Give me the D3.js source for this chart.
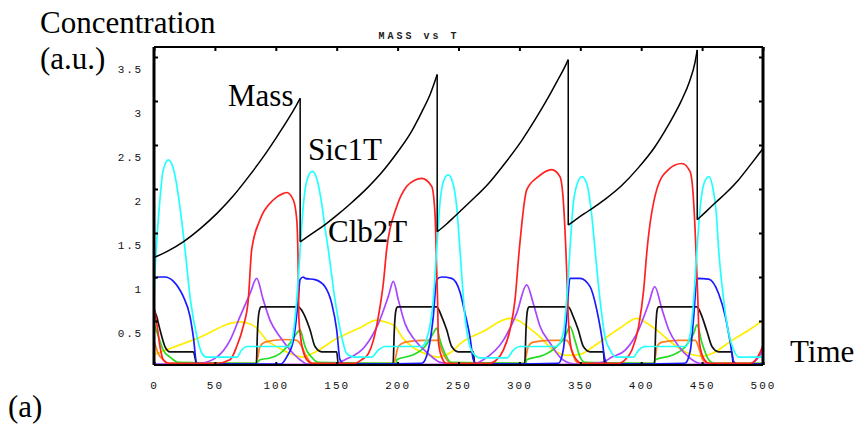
<!DOCTYPE html>
<html><head><meta charset="utf-8">
<script src="https://cdn.jsdelivr.net/npm/d3@7"></script>
<style>body{margin:0;background:#fff}svg{display:block}</style>
</head><body><svg id="c" width="858" height="427"></svg>
<script>
// ---------- data (time, concentration) ----------
const xTicks = [0,50,100,150,200,250,300,350,400,450,500];
const yTicks = [0.5,1,1.5,2,2.5,3,3.5];
const yTickLabels = ["0.5","1","1.5","2","2.5","3","3.5"];
const chartTitle = "MASS vs T";

const mass = [[0,1.22],[12,1.30],[24,1.40],[38,1.55],[51.5,1.72],[65,1.92],[78.8,2.16],[90,2.37],[100.7,2.59],[110,2.79],[117.2,2.96],[120,3.03],
 [120,1.40],[130,1.495],[141.8,1.61],[150,1.70],[161,1.83],[175,2.01],[188.3,2.21],[200,2.42],[210,2.62],[220,2.88],[226.6,3.07],[232.5,3.30],
 [232.5,1.515],[240,1.60],[247,1.69],[260,1.86],[274.5,2.06],[288,2.29],[301.9,2.55],[313,2.79],[323.7,3.04],[332,3.25],[337.4,3.39],[340.1,3.47],
 [340.1,1.59],[348,1.67],[356.6,1.75],[370,1.88],[384,2.04],[397.6,2.24],[411.3,2.48],[422,2.72],[433.2,3.01],[439.6,3.22],[444.2,3.44],[446,3.58],
 [446,1.65],[453,1.74],[460.6,1.84],[470,1.96],[479.7,2.10],[490,2.28],[498.9,2.44],[500,2.46]];

const sic1T = [[0,0.75],[1,1.1],[4.4,1.8],[7.4,2.2],[11.7,2.33],[15.5,2.25],[18.6,2.05],[22,1.72],[25.5,1.31],[29.9,0.74],[35.3,0.32],[39.4,0.13],[43,0.09],[68,0.09],[72,0.17],[76.4,0.21],[111.7,0.21],[114.4,0.36],[117.2,0.74],[120,1.31],[122.5,1.8],[126,2.12],[130,2.20],[134,2.1],[137.5,1.85],[140.5,1.55],[143.1,1.31],[148.6,0.74],[154.1,0.32],[158.2,0.13],[165,0.09],[178.7,0.09],[184.2,0.17],[189.7,0.21],[219.8,0.21],[225.2,0.36],[229.3,0.74],[232.1,1.31],[234.5,1.8],[237.5,2.08],[241.5,2.16],[245.5,2.06],[248.5,1.8],[251.2,1.31],[255.3,0.55],[259.4,0.21],[263.5,0.11],[267.6,0.08],[289.6,0.08],[295,0.17],[300.5,0.21],[330.6,0.21],[336,0.36],[338.8,0.74],[341.5,1.31],[344,1.8],[347.5,2.06],[351.5,2.14],[355.5,2.05],[359,1.75],[362.1,1.31],[366.2,0.74],[370.3,0.32],[374.4,0.17],[379.9,0.09],[393.5,0.09],[397.9,0.17],[403.4,0.21],[436.3,0.21],[440.4,0.36],[443.1,0.74],[445.8,1.31],[448.5,1.8],[451.5,2.06],[455.5,2.14],[459,2.0],[461.5,1.75],[463.6,1.31],[467.7,0.74],[471.8,0.36],[475.9,0.17],[480,0.09],[500,0.09]];

const clb2T = [[0,0.66],[2.5,0.45],[4.9,0.21],[7.6,0.06],[12,0.02],[51.5,0.02],[62.4,0.06],[67.9,0.21],[73.3,0.44],[77.4,0.74],[80.2,1.31],[87,1.65],[97.9,1.875],[106.2,1.95],[108.9,1.96],[114.4,1.875],[117.2,1.65],[118.4,1.08],[118.9,0.55],[120.5,0.3],[122.6,0.15],[125.4,0.06],[130,0.02],
 [165,0.02],[170.5,0.06],[176,0.13],[180.1,0.28],[184.2,0.55],[188.3,0.93],[191,1.31],[199.3,1.80],[207.5,2.03],[214,2.10],[219.8,2.12],[228,2.03],[230.7,1.72],[232.1,1.08],[232.8,0.74],[233.6,0.25],[236.2,0.09],[240,0.02],
 [276,0.02],[281.4,0.06],[286.8,0.17],[292.3,0.40],[296.4,0.74],[299.9,1.31],[306,1.99],[315.5,2.14],[326.5,2.22],[333.3,2.14],[336,1.875],[338.8,1.08],[340.1,0.55],[342.8,0.17],[346.9,0.06],[351,0.02],
 [382,0.02],[386.9,0.06],[392.4,0.17],[397.9,0.44],[402,0.85],[404.8,1.31],[412.7,1.99],[422.3,2.22],[433.3,2.29],[440.1,2.20],[442.8,1.91],[445.6,1.08],[446.5,0.74],[447.8,0.25],[451.9,0.06],[456,0.02],
 [490,0.02],[494,0.06],[497.5,0.14],[500,0.22]];

const blueSeries = [[0,0.98],[4,1.0],[9,1.0],[16,0.95],[20,0.88],[24,0.78],[29.6,0.55],[32.3,0.32],[35.1,0.02],[40,0.01],[104,0.01],[108.9,0.09],[114.4,0.28],[118.4,0.74],[119.9,0.97],[122.6,1.0],[124,0.985],[132.2,0.97],[140.4,0.89],[145.9,0.70],[150,0.40],[152.7,0.06],[156,0.01],
 [220,0.02],[225.2,0.17],[229.3,0.55],[232.1,0.97],[236.2,1.0],[244.4,0.985],[251.2,0.83],[255.3,0.59],[259.4,0.32],[262.2,0.06],[265,0.01],
 [332,0.02],[336,0.17],[338.8,0.55],[341.5,0.985],[349.8,0.985],[358,0.89],[363.5,0.63],[367.6,0.32],[370.3,0.06],[373,0.01],
 [436,0.02],[440.4,0.17],[443.1,0.55],[445.8,0.985],[455.4,0.975],[463.6,0.81],[469.1,0.55],[473.2,0.25],[475.9,0.04],[479,0.01],[500,0.01]];

const purpleSeries = [[0,0.01],[37.8,0.02],[51.5,0.09],[62.4,0.28],[70.6,0.55],[78.8,0.81],[84.3,0.985],[89.7,0.74],[95.2,0.51],[103.4,0.32],[111.7,0.17],[119.9,0.06],[126,0.01],
 [150,0.02],[156.8,0.06],[173.2,0.21],[184.2,0.47],[192.4,0.78],[196.5,0.95],[200.6,0.74],[206.1,0.47],[214.3,0.28],[225.2,0.13],[235,0.03],[245,0.01],
 [262,0.01],[270.4,0.06],[286.8,0.28],[297.8,0.59],[306,0.91],[311.4,0.70],[316.9,0.44],[325.1,0.25],[333.3,0.09],[342,0.02],[350,0.01],
 [368,0.03],[376,0.09],[386.9,0.17],[397.9,0.40],[406.2,0.70],[411.1,0.89],[417.1,0.63],[422.6,0.40],[430.9,0.21],[439.1,0.09],[448,0.02],
 [485,0.01],[490.9,0.02],[496.5,0.09],[500,0.17]];

const stepSeries = [[0,0.63],[2.2,0.55],[4.9,0.40],[9,0.21],[13.1,0.15],[32.3,0.15],[35.1,0.01],[84,0.01],[85,0.40],[86.5,0.62],[88,0.66],[118.4,0.66],[122.6,0.59],[124,0.55],[128.1,0.40],[132.2,0.21],[137.7,0.15],[150,0.15],[151.3,0.01],
 [196.3,0.01],[197.3,0.40],[198.6,0.62],[200,0.66],[232.1,0.66],[236.2,0.55],[240.3,0.40],[244.4,0.21],[249.8,0.15],[262.2,0.15],[263.3,0.01],
 [304.4,0.01],[305.4,0.40],[306.6,0.62],[308,0.66],[340.1,0.66],[344.2,0.55],[348.3,0.40],[352.5,0.21],[358,0.15],[368.9,0.15],[370,0.01],
 [410.9,0.01],[411.9,0.40],[413,0.62],[414.3,0.66],[445.8,0.66],[449.9,0.55],[454,0.38],[458.1,0.21],[463.6,0.15],[474.5,0.15],[475.5,0.01],[500,0.01]];

const yellowSeries = [[0,0.12],[35,0.30],[70.6,0.49],[76,0.48],[84.3,0.42],[92.5,0.28],[100.7,0.21],[111.7,0.13],[122,0.09],[130,0.13],[150,0.30],[170,0.43],[182.8,0.51],[189.7,0.49],[197.9,0.44],[203.4,0.32],[211.6,0.21],[222.5,0.13],[233.3,0.09],[244.4,0.15],[251.2,0.24],[270,0.38],[292.3,0.53],[300,0.50],[306,0.44],[316.9,0.32],[327.8,0.17],[338.8,0.11],[349.8,0.12],[360.7,0.21],[382.6,0.42],[396.6,0.53],[403.1,0.49],[414.4,0.38],[425.3,0.25],[439.1,0.13],[449.9,0.10],[458.1,0.13],[474.5,0.28],[490.9,0.42],[500,0.51]];

const orangeSeries = [[0,0.28],[3.5,0.13],[7.6,0.06],[12,0.02],[84,0.02],[84.8,0.06],[87,0.21],[91.1,0.26],[106.2,0.29],[117.2,0.28],[121.3,0.21],[125.4,0.09],[130,0.02],
 [197,0.02],[198.2,0.08],[200.6,0.21],[206.1,0.26],[219.8,0.28],[233.3,0.28],[236.2,0.17],[240.3,0.06],[244,0.02],
 [304,0.02],[305.2,0.08],[307.3,0.21],[311.4,0.26],[325.1,0.28],[338.8,0.28],[343,0.17],[345.6,0.06],[349,0.02],
 [410.5,0.02],[411.5,0.08],[413,0.21],[417.1,0.26],[430.9,0.28],[444.5,0.28],[447.8,0.17],[450.5,0.06],[455,0.02],[500,0.02]];

const greenSeries = [[0,0.47],[3.5,0.33],[7.6,0.17],[13.1,0.09],[20,0.03],[84,0.02],[87,0.06],[95.2,0.08],[103.4,0.13],[111.7,0.25],[117.2,0.36],[119.9,0.40],[122.6,0.28],[124,0.21],[129.3,0.09],[135,0.03],
 [199,0.02],[199.3,0.06],[211.6,0.11],[222.5,0.21],[229.3,0.36],[232.1,0.42],[234.8,0.28],[238.9,0.13],[244,0.03],
 [305,0.02],[306,0.06],[319.6,0.11],[330.6,0.21],[337.4,0.32],[341.5,0.435],[345.6,0.28],[349.8,0.09],[354,0.03],
 [411,0.02],[411.6,0.06],[425.3,0.11],[436.3,0.21],[443.1,0.36],[445.8,0.455],[449.9,0.25],[455.4,0.06],[460,0.02],[500,0.02]];

const floorOrange = [[0,0.003],[500,0.003]];
const floorMagenta = [[0,0.008],[500,0.008]];

const seriesList = [
  {data: floorOrange, color: "#e07010"},
  {data: floorMagenta, color: "#c040ff"},
  {data: yellowSeries, color: "#ffee00"},
  {data: orangeSeries, color: "#ff7f1e"},
  {data: greenSeries, color: "#22dd22"},
  {data: purpleSeries, color: "#a845ff"},
  {data: stepSeries, color: "#111111"},
  {data: blueSeries, color: "#1a1aff"},
  {data: clb2T, color: "#ff2020"},
  {data: sic1T, color: "#22ffff"},
];

// ---------- drawing ----------
const svg = d3.select("#c");
svg.append("rect").attr("width",858).attr("height",427).attr("fill","#fff");

const L = 154, R = 763, T = 47, B = 365;
const x = d3.scaleLinear().domain([0,500]).range([L,R]);
const y = d3.scaleLinear().domain([0,3.5]).range([B,57]);

svg.append("clipPath").attr("id","clip").append("rect")
  .attr("x",L).attr("y",T).attr("width",R-L).attr("height",B-T);

const g = svg.append("g").attr("clip-path","url(#clip)");
const smooth = d3.line().x(d=>x(d[0])).y(d=>y(d[1])).curve(d3.curveMonotoneX);
const straight = d3.line().x(d=>x(d[0])).y(d=>y(d[1]));

seriesList.forEach(s=>{
  g.append("path").attr("d", smooth(s.data)).attr("fill","none")
   .attr("stroke", s.color).attr("stroke-width",1.7).attr("stroke-linejoin","round");
});

// mass: smooth growth segments split at each division (repeated time), joined by vertical drops
const massSegs = [[]];
mass.forEach((p,i)=>{
  if (i>0 && p[0]===mass[i-1][0]) massSegs.push([]);
  massSegs[massSegs.length-1].push(p);
});
massSegs.forEach((seg,k)=>{
  g.append("path").attr("d", smooth(seg)).attr("fill","none")
   .attr("stroke","#000").attr("stroke-width",1.5);
  if (k>0) {
    const prev = massSegs[k-1][massSegs[k-1].length-1];
    g.append("path").attr("d", straight([prev, seg[0]])).attr("fill","none")
     .attr("stroke","#000").attr("stroke-width",1.5);
  }
});

// frame
const frame = svg.append("g").attr("stroke","#000").attr("fill","none");
frame.append("line").attr("x1",L).attr("x2",L).attr("y1",T).attr("y2",B).attr("stroke-width",3);
frame.append("line").attr("x1",R).attr("x2",R).attr("y1",T).attr("y2",B).attr("stroke-width",3);
frame.append("line").attr("x1",L).attr("x2",R).attr("y1",T).attr("y2",T).attr("stroke-width",2);
frame.append("line").attr("x1",L).attr("x2",R).attr("y1",B).attr("y2",B).attr("stroke-width",2);

// ticks via axes (inside ticks)
const topAxis = d3.axisBottom(x).tickValues(xTicks).tickSize(4).tickFormat("");
svg.append("g").attr("transform",`translate(0,${T})`).call(topAxis).call(a=>a.select(".domain").remove())
  .selectAll("line").attr("stroke","#000").attr("stroke-width",2);
const botAxis = d3.axisTop(x).tickValues(xTicks).tickSize(3).tickFormat("");
svg.append("g").attr("transform",`translate(0,${B})`).call(botAxis).call(a=>a.select(".domain").remove())
  .selectAll("line").attr("stroke","#000").attr("stroke-width",2);
const rightAxis = d3.axisLeft(y).tickValues(yTicks).tickSize(4).tickFormat("");
svg.append("g").attr("transform",`translate(${R},0)`).call(rightAxis).call(a=>a.select(".domain").remove())
  .selectAll("line").attr("stroke","#000").attr("stroke-width",2);
const leftAxis = d3.axisRight(y).tickValues(yTicks).tickSize(4).tickFormat("");
svg.append("g").attr("transform",`translate(${L},0)`).call(leftAxis).call(a=>a.select(".domain").remove())
  .selectAll("line").attr("stroke","#000").attr("stroke-width",2);

// tick labels
const mono = "'Liberation Mono','DejaVu Sans Mono',monospace";
const xLab = d3.axisBottom(x).tickValues(xTicks).tickSize(0).tickPadding(0).tickFormat(d=>String(d));
const gx = svg.append("g").attr("transform","translate(0,389)").call(xLab);
gx.select(".domain").remove();
gx.selectAll("text").attr("dy",0).attr("font-family",mono).attr("font-size",11)
  .attr("letter-spacing","2px").attr("fill","#111");

const yLab = d3.axisLeft(y).tickValues(yTicks).tickSize(0).tickPadding(0).tickFormat((d,i)=>yTickLabels[i]);
const gy = svg.append("g").attr("transform","translate(143,12)").call(yLab);
gy.select(".domain").remove();
gy.selectAll("text").attr("font-family",mono).attr("font-size",11)
  .attr("letter-spacing","1.8px").attr("fill","#111");

svg.append("text").attr("x",419).attr("y",39).attr("text-anchor","middle")
  .attr("font-family",mono).attr("font-size",10).attr("font-weight","bold").attr("letter-spacing","3px")
  .attr("fill","#222").text(chartTitle);

// big serif annotations
const serif = "'Liberation Serif','Times New Roman',serif";
const ann = [["Concentration",40,33],["(a.u.)",40,69],["Mass",228,106],["Sic1T",308,160],["Clb2T",328,242],["Time",790,362],["(a)",8,417]];
ann.forEach(a=>svg.append("text").attr("x",a[1]).attr("y",a[2]).attr("font-family",serif)
  .attr("font-size",31).attr("fill","#000").text(a[0]));
</script></body></html>
